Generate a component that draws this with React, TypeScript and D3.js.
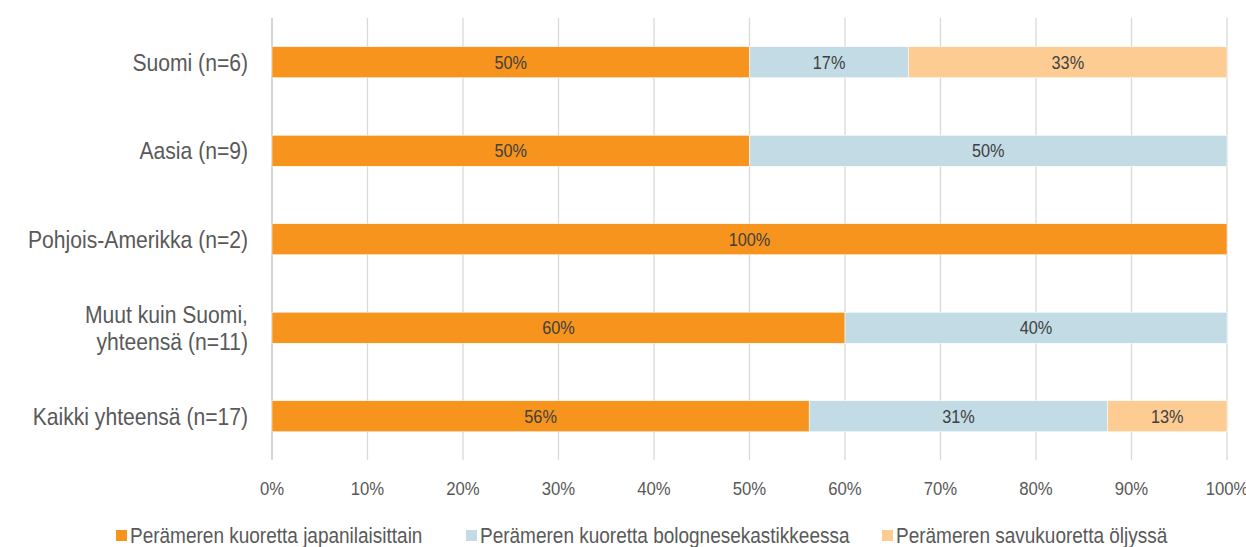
import React from "react";
import * as d3 from "d3";

const categories = [
  ["Suomi (n=6)"],
  ["Aasia (n=9)"],
  ["Pohjois-Amerikka (n=2)"],
  ["Muut kuin Suomi,", "yhteensä (n=11)"],
  ["Kaikki yhteensä (n=17)"],
];
const seriesNames = [
  "Perämeren kuoretta japanilaisittain",
  "Perämeren kuoretta bolognesekastikkeessa",
  "Perämeren savukuoretta öljyssä",
];
const japan = [50, 50, 100, 60, 56.25];
const bolognese = [16.67, 50, 0, 40, 31.25];
const savu = [33.33, 0, 0, 0, 12.5];
const ticks = [0, 10, 20, 30, 40, 50, 60, 70, 80, 90, 100];
const colors = ["#F7941D", "#C3DBE5", "#FDCC93"];

const W = 1246;
const H = 547;
const FONT = "'Liberation Sans', Arial, sans-serif";
const SX = 0.88;

function NText(props: { x: number; y: number; anchor?: string; size: number; fill: string; children: React.ReactNode }) {
  return (
    <text
      transform={`translate(${props.x},${props.y}) scale(${SX},1)`}
      textAnchor={props.anchor || "start"}
      fontSize={props.size}
      fill={props.fill}
      dy="0.36em"
    >
      {props.children}
    </text>
  );
}

export default function App() {
  const x = d3.scaleLinear().domain([0, 100]).range([272, 1227]);
  const y = d3
    .scaleBand<number>()
    .domain(d3.range(categories.length))
    .range([18, 460.5])
    .paddingInner(0.65)
    .paddingOuter(0.325);
  const series = [japan, bolognese, savu];
  const stackData = categories.map((_, i) => ({ i, a: japan[i], b: bolognese[i], c: savu[i] }));
  const stacked = d3.stack<any>().keys(["a", "b", "c"])(stackData);
  const legendX = [116, 466, 882];
  return (
    <svg
      width={W}
      height={H}
      style={{ position: "absolute", left: 0, top: 0, background: "#fff" }}
      fontFamily={FONT}
    >
      {ticks.map((t) => (
        <line
          key={t}
          x1={x(t)}
          x2={x(t)}
          y1={18}
          y2={460}
          stroke={t === 0 ? "#BFBFBF" : "#D9D9D9"}
          strokeWidth={1.3}
        />
      ))}
      {stacked.map((layer, si) =>
        layer.map((d, i) => {
          const w = x(d[1]) - x(d[0]);
          if (w <= 0) return null;
          const val = series[si][i];
          return (
            <g key={si + "-" + i}>
              <rect
                x={x(d[0])}
                y={y(i)!}
                width={w}
                height={y.bandwidth()}
                fill={colors[si]}
                stroke="#fff"
                strokeWidth={0.5}
              />
              <NText x={x(d[0]) + w / 2} y={y(i)! + y.bandwidth() / 2} anchor="middle" size={18.5} fill="#404040">
                {Math.round(val)}%
              </NText>
            </g>
          );
        })
      )}
      {categories.map((lines, i) => {
        const cy = y(i)! + y.bandwidth() / 2;
        const lh = 27;
        return (
          <g key={i}>
            {lines.map((l, k) => (
              <NText key={k} x={248} y={cy + (k - (lines.length - 1) / 2) * lh} anchor="end" size={24} fill="#595959">
                {l}
              </NText>
            ))}
          </g>
        );
      })}
      {ticks.map((t) => (
        <NText key={t} x={x(t)} y={488} anchor="middle" size={19} fill="#595959">
          {t}%
        </NText>
      ))}
      {seriesNames.map((n, i) => (
        <g key={n}>
          <rect x={legendX[i]} y={530} width={11} height={11} fill={colors[i]} />
          <NText x={legendX[i] + 14} y={535} size={21.6} fill="#595959">
            {n}
          </NText>
        </g>
      ))}
    </svg>
  );
}
